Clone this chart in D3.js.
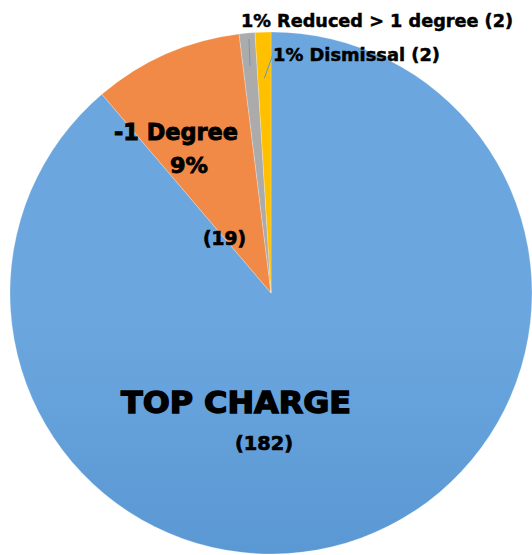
<!DOCTYPE html>
<html>
<head>
<meta charset="utf-8">
<script src="https://cdn.jsdelivr.net/npm/d3@7"></script>
<style>
  html, body { margin: 0; padding: 0; background: #fff; }
  svg text { font-family: "DejaVu Sans", "Liberation Sans", Arial, sans-serif; font-weight: bold; fill: #000; stroke: #000; }
</style>
</head>
<body>
<svg id="chart" width="532" height="555"></svg>
<script>
// data
const categories = ["TOP CHARGE", "-1 Degree", "Reduced > 1 degree", "Dismissal"];
const counts = [182, 19, 2, 2];
const percentLabels = ["", "9%", "1%", "1%"];

const svg = d3.select("#chart");
const cx = 271, cy = 293, radius = 261;

// gradients for the two big slices
const defs = svg.append("defs");
function grad(id, top, bottom) {
  const g = defs.append("linearGradient")
    .attr("id", id)
    .attr("gradientUnits", "userSpaceOnUse")
    .attr("x1", 0).attr("y1", cy - radius)
    .attr("x2", 0).attr("y2", cy + radius);
  g.append("stop").attr("offset", "0%").attr("stop-color", top);
  g.append("stop").attr("offset", "100%").attr("stop-color", bottom);
}
grad("blueGrad", "#6ba6de", "#4587c7");
grad("orangeGrad", "#f18a47", "#e8660f");

const fills = ["url(#blueGrad)", "url(#orangeGrad)", "#ababab", "#ffc000"];

const pie = d3.pie().sort(null).value(d => d)(counts);
const arc = d3.arc().innerRadius(0).outerRadius(radius);

const g = svg.append("g").attr("transform", `translate(${cx},${cy})`);

g.selectAll("path.slice")
  .data(pie)
  .join("path")
  .attr("class", "slice")
  .attr("d", arc)
  .attr("fill", (d, i) => fills[i])
  .attr("stroke", "#ffffff")
  .attr("stroke-opacity", 0.3)
  .attr("stroke-width", 0.8);

// leader lines for the two tiny slices
const leaders = [
  { i: 2, r: 228, to: [249, 39] },
  { i: 3, r: 215, to: [273, 54] }
];
leaders.forEach(l => {
  const d = pie[l.i];
  const a = (d.startAngle + d.endAngle) / 2;
  const p = [Math.sin(a) * l.r, -Math.cos(a) * l.r];
  g.append("line")
    .attr("x1", p[0]).attr("y1", p[1])
    .attr("x2", l.to[0] - cx).attr("y2", l.to[1] - cy)
    .attr("stroke", "#5b9bd5")
    .attr("stroke-width", 1);
});

// labels
function label(text, x, y, size, width, sw) {
  svg.append("text")
    .attr("x", x).attr("y", y)
    .attr("font-size", size)
    .attr("stroke-width", sw)
    .attr("textLength", width)
    .attr("lengthAdjust", "spacingAndGlyphs")
    .text(text);
}

label(categories[0], 121, 413, 30, 230, 1.4);
label(`(${counts[0]})`, 235, 450, 19, 58, 0.7);

label(categories[1], 114, 140, 23, 124, 0.9);
label(percentLabels[1], 170, 173, 21, 38, 0.8);
label(`(${counts[1]})`, 203, 245, 19, 43, 0.7);

label(`${percentLabels[2]} ${categories[2]} (${counts[2]})`, 241, 27, 18, 272, 0.5);
label(`${percentLabels[3]} ${categories[3]} (${counts[3]})`, 273, 61, 18, 167, 0.5);
</script>
</body>
</html>
